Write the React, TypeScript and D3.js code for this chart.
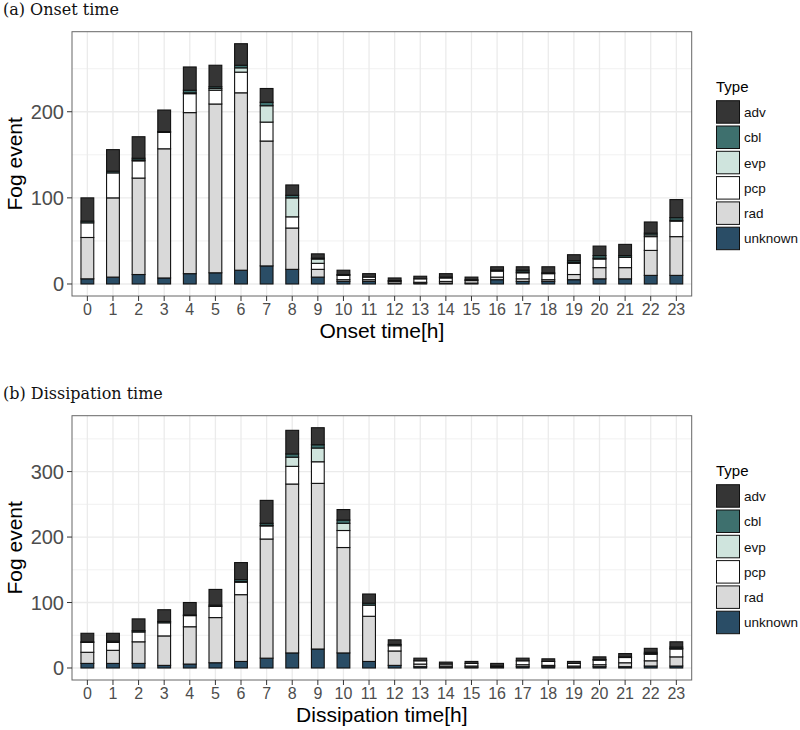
import React, { useEffect } from "react";
import * as d3 from "d3";

const hours = d3.range(0, 24).map(String);
const typeKeys = ["unknown", "rad", "pcp", "evp", "cbl", "adv"];
const legendKeys = ["adv", "cbl", "evp", "pcp", "rad", "unknown"];
const typeColors: Record<string, string> = {
  adv: "#353535",
  cbl: "#3e706e",
  evp: "#cfe4dd",
  pcp: "#ffffff",
  rad: "#d9d9d9",
  unknown: "#2a4d66",
};

// (a) Onset time
const onsetUnknown = [6, 8, 11, 7, 12, 13, 16, 21, 17, 8, 3, 3, 1, 1, 1, 1, 5, 3, 3, 5, 6, 6, 10, 10];
const onsetRad = [48, 92, 112, 150, 187, 196, 206, 145, 48, 9, 2, 2, 2, 1, 2, 3, 3, 3, 2, 6, 13, 13, 29, 45];
const onsetPcp = [17, 29, 20, 19, 22, 16, 24, 22, 13, 7, 5, 3, 1, 4, 4, 1, 7, 7, 7, 13, 10, 12, 16, 18];
const onsetEvp = [0, 0, 1, 0, 1, 2, 5, 19, 22, 5, 1, 0, 0, 0, 0, 0, 0, 1, 0, 1, 1, 0, 2, 1];
const onsetCbl = [2, 2, 2, 1, 3, 2, 3, 4, 3, 1, 0, 0, 0, 0, 1, 0, 1, 2, 1, 2, 3, 2, 2, 3];
const onsetAdv = [27, 25, 25, 25, 27, 25, 25, 16, 12, 5, 5, 4, 3, 3, 4, 3, 4, 4, 7, 7, 11, 13, 13, 21];

// (b) Dissipation time
const dissUnknown = [7, 7, 7, 4, 6, 8, 10, 15, 23, 29, 23, 10, 4, 2, 1, 1, 1, 2, 2, 1, 2, 2, 3, 3];
const dissRad = [17, 20, 33, 45, 57, 69, 102, 182, 258, 253, 161, 69, 22, 4, 2, 2, 1, 3, 2, 2, 3, 6, 8, 14];
const dissPcp = [15, 12, 15, 20, 17, 17, 19, 20, 27, 33, 26, 17, 8, 5, 3, 4, 1, 6, 6, 4, 7, 8, 10, 12];
const dissEvp = [0, 0, 0, 0, 0, 0, 1, 1, 14, 21, 11, 0, 0, 0, 0, 0, 0, 0, 0, 0, 0, 0, 1, 1];
const dissCbl = [1, 2, 2, 2, 1, 2, 3, 3, 5, 5, 5, 3, 2, 0, 0, 0, 0, 0, 0, 0, 1, 1, 2, 2];
const dissAdv = [13, 12, 18, 18, 19, 24, 26, 35, 36, 26, 16, 14, 7, 4, 3, 3, 4, 4, 4, 3, 4, 5, 6, 8];

const onsetTicks = [0, 100, 200];
const onsetMinor = [50, 150, 250];
const dissTicks = [0, 100, 200, 300];
const dissMinor = [50, 150, 250, 350];

function buildRows(series: number[][]) {
  return hours.map((h, i) => {
    const row: any = { hour: h };
    typeKeys.forEach((k, j) => (row[k] = series[j][i]));
    return row;
  });
}

const onsetRows = buildRows([onsetUnknown, onsetRad, onsetPcp, onsetEvp, onsetCbl, onsetAdv]);
const dissRows = buildRows([dissUnknown, dissRad, dissPcp, dissEvp, dissCbl, dissAdv]);

const W = 800;
const H = 730;
const SANS = "'Liberation Sans', Arial, sans-serif";

function Panel({ rows, top, title, xTitle, ticks, minor }: any) {
  const left = 72;
  const right = 691.7;
  const pTop = top + 31.7;
  const pBottom = top + 296;
  const totals = rows.map((r: any) => typeKeys.reduce((s, k) => s + r[k], 0));
  const maxV = d3.max(totals) as number;
  const y = d3.scaleLinear().domain([-0.05 * maxV, 1.05 * maxV]).range([pBottom, pTop]);
  // ggplot discrete expansion: 0.6 units on each side
  const x = d3
    .scalePoint()
    .domain(hours)
    .range([left, right])
    .padding(0.6);
  const unit = x.step();
  const cx = (h: string) => x(h) as number;
  const bw = unit * 0.5;
  const stacked = d3.stack().keys(typeKeys)(rows as any);
  const gridColor = "#ebebeb";
  const legTop = top + 100.7;
  return (
    <g>
      <text x={3} y={top + 15} fontFamily="'DejaVu Serif', serif" fontSize={16} fill="#111">
        {title}
      </text>
      <rect x={left} y={pTop} width={right - left} height={pBottom - pTop} fill="#fff" />
      {minor.map((v: number) => (
        <line key={"mi" + v} x1={left} x2={right} y1={y(v)} y2={y(v)} stroke={gridColor} strokeWidth={0.7} />
      ))}
      {ticks.map((v: number) => (
        <line key={"ma" + v} x1={left} x2={right} y1={y(v)} y2={y(v)} stroke={gridColor} strokeWidth={1.3} />
      ))}
      {hours.map((h) => (
        <line key={"xg" + h} x1={cx(h)} x2={cx(h)} y1={pTop} y2={pBottom} stroke={gridColor} strokeWidth={1.3} />
      ))}
      {stacked.map((s: any) => (
        <g key={s.key}>
          {s.map((d: any, i: number) =>
            d[1] - d[0] > 0 ? (
              <rect
                key={i}
                x={cx(hours[i]) - bw / 2}
                width={bw}
                y={y(d[1])}
                height={y(d[0]) - y(d[1])}
                fill={typeColors[s.key]}
                stroke="#111"
                strokeWidth={1.1}
              />
            ) : null
          )}
        </g>
      ))}
      <rect x={left} y={pTop} width={right - left} height={pBottom - pTop} fill="none" stroke="#666" strokeWidth={1} />
      {ticks.map((v: number) => (
        <g key={"yt" + v}>
          <line x1={left - 5} x2={left} y1={y(v)} y2={y(v)} stroke="#333" strokeWidth={1} />
          <text x={left - 8} y={y(v)} dy="0.36em" textAnchor="end" fontFamily={SANS} fontSize={20} fill="#4d4d4d">
            {v}
          </text>
        </g>
      ))}
      {hours.map((h) => (
        <g key={"xt" + h}>
          <line x1={cx(h)} x2={cx(h)} y1={pBottom} y2={pBottom + 5} stroke="#333" strokeWidth={1} />
          <text x={cx(h)} y={pBottom + 19} textAnchor="middle" fontFamily={SANS} fontSize={16} fill="#4d4d4d">
            {h}
          </text>
        </g>
      ))}
      <text x={(left + right) / 2} y={pBottom + 42} textAnchor="middle" fontFamily={SANS} fontSize={21} fill="#000">
        {xTitle}
      </text>
      <text
        transform={`translate(${22},${(pTop + pBottom) / 2}) rotate(-90)`}
        textAnchor="middle"
        fontFamily={SANS}
        fontSize={21}
        fill="#000"
      >
        Fog event
      </text>
      <text x={716} y={top + 91.5} fontFamily={SANS} fontSize={15} fill="#000">
        Type
      </text>
      {legendKeys.map((k, i) => (
        <g key={"lg" + k}>
          <rect x={716.5} y={legTop + i * 25.3} width={23} height={22.5} fill={typeColors[k]} stroke="#111" strokeWidth={1} />
          <text x={744} y={legTop + i * 25.3 + 11.5} dy="0.35em" fontFamily={SANS} fontSize={13.5} fill="#111">
            {k}
          </text>
        </g>
      ))}
    </g>
  );
}

export default function App() {
  useEffect(() => {
    document.body.style.margin = "0";
  }, []);
  return (
    <svg width={W} height={H} style={{ display: "block", background: "#fff" }}>
      <rect x={0} y={0} width={W} height={H} fill="#fff" />
      <Panel rows={onsetRows} top={0} title="(a) Onset time" xTitle="Onset time[h]" ticks={onsetTicks} minor={onsetMinor} />
      <Panel rows={dissRows} top={384} title="(b) Dissipation time" xTitle="Dissipation time[h]" ticks={dissTicks} minor={dissMinor} />
    </svg>
  );
}
